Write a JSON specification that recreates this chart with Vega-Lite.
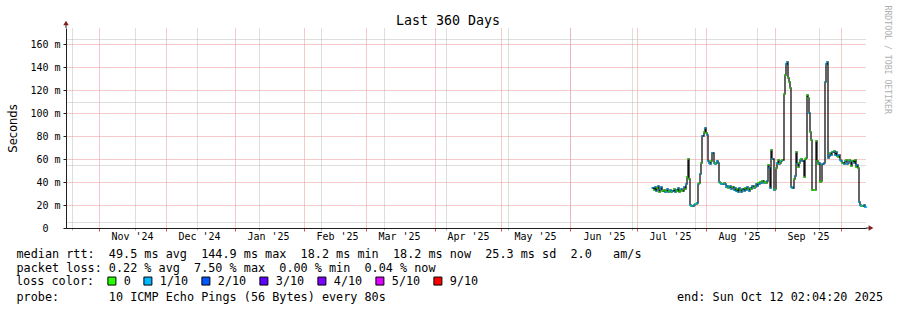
{
  "$schema": "https://vega.github.io/schema/vega-lite/v6.json",
  "width": 800,
  "height": 200,
  "autosize": {"type": "none"},
  "padding": {"left": 66, "top": 28, "right": 31, "bottom": 82},
  "background": "white",
  "title": {"text": "Last 360 Days", "font": "DejaVu Sans Mono", "fontSize": 13.3, "fontWeight": "normal", "color": "black", "anchor": "middle", "dx": -18, "dy": 27, "offset": 5},
  "config": {"view": {"stroke": null}},
  "data": {"values": [
    {"t":"2025-07-08T00:00","v":35,"loss":"1/10"},{"t":"2025-07-08T12:00","v":33,"loss":"0"},
    {"t":"2025-07-09T00:00","v":36,"loss":"1/10"},{"t":"2025-07-09T12:00","v":32,"loss":"1/10"},
    {"t":"2025-07-10T00:00","v":35,"loss":"0"},{"t":"2025-07-10T12:00","v":37,"loss":"1/10"},
    {"t":"2025-07-11T00:00","v":31,"loss":"0"},{"t":"2025-07-11T12:00","v":34,"loss":"1/10"},
    {"t":"2025-07-12T00:00","v":36,"loss":"1/10"},{"t":"2025-07-12T12:00","v":32,"loss":"0"},
    {"t":"2025-07-13T00:00","v":33,"loss":"0"},{"t":"2025-07-13T12:00","v":31,"loss":"1/10"},
    {"t":"2025-07-14T00:00","v":32,"loss":"0"},{"t":"2025-07-14T12:00","v":34,"loss":"1/10"},
    {"t":"2025-07-15T00:00","v":31,"loss":"1/10"},{"t":"2025-07-15T12:00","v":32,"loss":"0"},
    {"t":"2025-07-16T00:00","v":33,"loss":"1/10"},{"t":"2025-07-16T12:00","v":31,"loss":"0"},
    {"t":"2025-07-17T00:00","v":32,"loss":"1/10"},{"t":"2025-07-17T12:00","v":34,"loss":"0"},
    {"t":"2025-07-18T00:00","v":31,"loss":"1/10"},{"t":"2025-07-18T12:00","v":33,"loss":"1/10"},
    {"t":"2025-07-19T00:00","v":32,"loss":"0"},{"t":"2025-07-19T12:00","v":35,"loss":"1/10"},
    {"t":"2025-07-20T00:00","v":31,"loss":"0"},{"t":"2025-07-20T12:00","v":33,"loss":"0"},
    {"t":"2025-07-21T00:00","v":34,"loss":"1/10"},{"t":"2025-07-21T12:00","v":32,"loss":"0"},
    {"t":"2025-07-22T00:00","v":36,"loss":"1/10"},{"t":"2025-07-22T12:00","v":34,"loss":"0"},
    {"t":"2025-07-23T00:00","v":38,"loss":"1/10"},{"t":"2025-07-23T12:00","v":44,"loss":"0"},
    {"t":"2025-07-24T00:00","v":60,"loss":"0"},{"t":"2025-07-24T12:00","v":43,"loss":"0"},
    {"t":"2025-07-25T00:00","v":20,"loss":"1/10"},{"t":"2025-07-25T12:00","v":19,"loss":"0"},
    {"t":"2025-07-26T00:00","v":19,"loss":"1/10"},{"t":"2025-07-26T12:00","v":20,"loss":"1/10"},
    {"t":"2025-07-27T00:00","v":21,"loss":"1/10"},{"t":"2025-07-27T12:00","v":21,"loss":"0"},
    {"t":"2025-07-28T00:00","v":22,"loss":"1/10"},{"t":"2025-07-28T12:00","v":38,"loss":"1/10"},
    {"t":"2025-07-29T00:00","v":39,"loss":"0"},{"t":"2025-07-29T12:00","v":47,"loss":"1/10"},
    {"t":"2025-07-30T00:00","v":57,"loss":"0"},{"t":"2025-07-30T12:00","v":80,"loss":"1/10"},
    {"t":"2025-07-31T00:00","v":84,"loss":"0"},{"t":"2025-07-31T12:00","v":87,"loss":"1/10"},
    {"t":"2025-08-01T00:00","v":83,"loss":"0"},{"t":"2025-08-01T12:00","v":81,"loss":"1/10"},
    {"t":"2025-08-02T00:00","v":58,"loss":"1/10"},{"t":"2025-08-02T12:00","v":57,"loss":"1/10"},
    {"t":"2025-08-03T00:00","v":56,"loss":"1/10"},{"t":"2025-08-03T12:00","v":58,"loss":"0"},
    {"t":"2025-08-04T00:00","v":65,"loss":"1/10"},{"t":"2025-08-04T12:00","v":57,"loss":"1/10"},
    {"t":"2025-08-05T00:00","v":56,"loss":"1/10"},{"t":"2025-08-05T12:00","v":57,"loss":"0"},
    {"t":"2025-08-06T00:00","v":58,"loss":"1/10"},{"t":"2025-08-06T12:00","v":57,"loss":"1/10"},
    {"t":"2025-08-07T00:00","v":40,"loss":"1/10"},{"t":"2025-08-07T12:00","v":39,"loss":"0"},
    {"t":"2025-08-08T00:00","v":38,"loss":"1/10"},{"t":"2025-08-08T12:00","v":38,"loss":"1/10"},
    {"t":"2025-08-09T00:00","v":39,"loss":"0"},{"t":"2025-08-09T12:00","v":38,"loss":"1/10"},
    {"t":"2025-08-10T00:00","v":36,"loss":"1/10"},{"t":"2025-08-10T12:00","v":37,"loss":"1/10"},
    {"t":"2025-08-11T00:00","v":35,"loss":"0"},{"t":"2025-08-11T12:00","v":36,"loss":"1/10"},
    {"t":"2025-08-12T00:00","v":37,"loss":"1/10"},{"t":"2025-08-12T12:00","v":34,"loss":"1/10"},
    {"t":"2025-08-13T00:00","v":36,"loss":"0"},{"t":"2025-08-13T12:00","v":33,"loss":"1/10"},
    {"t":"2025-08-14T00:00","v":35,"loss":"1/10"},{"t":"2025-08-14T12:00","v":32,"loss":"1/10"},
    {"t":"2025-08-15T00:00","v":34,"loss":"0"},{"t":"2025-08-15T12:00","v":31,"loss":"1/10"},
    {"t":"2025-08-16T00:00","v":35,"loss":"1/10"},{"t":"2025-08-16T12:00","v":33,"loss":"0"},
    {"t":"2025-08-17T00:00","v":31,"loss":"1/10"},{"t":"2025-08-17T12:00","v":34,"loss":"1/10"},
    {"t":"2025-08-18T00:00","v":32,"loss":"1/10"},{"t":"2025-08-18T12:00","v":35,"loss":"0"},
    {"t":"2025-08-19T00:00","v":33,"loss":"1/10"},{"t":"2025-08-19T12:00","v":36,"loss":"1/10"},
    {"t":"2025-08-20T00:00","v":34,"loss":"0"},{"t":"2025-08-20T12:00","v":32,"loss":"1/10"},
    {"t":"2025-08-21T00:00","v":35,"loss":"1/10"},{"t":"2025-08-21T12:00","v":34,"loss":"0"},
    {"t":"2025-08-22T00:00","v":37,"loss":"1/10"},{"t":"2025-08-22T12:00","v":35,"loss":"1/10"},
    {"t":"2025-08-23T00:00","v":36,"loss":"0"},{"t":"2025-08-23T12:00","v":38,"loss":"1/10"},
    {"t":"2025-08-24T00:00","v":37,"loss":"1/10"},{"t":"2025-08-24T12:00","v":39,"loss":"0"},
    {"t":"2025-08-25T00:00","v":38,"loss":"1/10"},{"t":"2025-08-25T12:00","v":40,"loss":"0"},
    {"t":"2025-08-26T00:00","v":39,"loss":"1/10"},{"t":"2025-08-26T12:00","v":41,"loss":"0"},
    {"t":"2025-08-27T00:00","v":39,"loss":"1/10"},{"t":"2025-08-27T12:00","v":40,"loss":"0"},
    {"t":"2025-08-28T00:00","v":39,"loss":"0"},{"t":"2025-08-28T12:00","v":41,"loss":"1/10"},
    {"t":"2025-08-29T00:00","v":55,"loss":"0"},{"t":"2025-08-29T12:00","v":52,"loss":"1/10"},
    {"t":"2025-08-30T00:00","v":35,"loss":"1/10"},{"t":"2025-08-30T12:00","v":68,"loss":"0"},
    {"t":"2025-08-31T00:00","v":60,"loss":"1/10"},{"t":"2025-08-31T12:00","v":33,"loss":"1/10"},
    {"t":"2025-09-01T00:00","v":34,"loss":"0"},{"t":"2025-09-01T12:00","v":52,"loss":"0"},
    {"t":"2025-09-02T00:00","v":57,"loss":"1/10"},{"t":"2025-09-02T12:00","v":59,"loss":"0"},
    {"t":"2025-09-03T00:00","v":56,"loss":"1/10"},{"t":"2025-09-03T12:00","v":57,"loss":"0"},
    {"t":"2025-09-04T00:00","v":58,"loss":"1/10"},{"t":"2025-09-04T12:00","v":59,"loss":"0"},
    {"t":"2025-09-05T00:00","v":117,"loss":"0"},{"t":"2025-09-05T12:00","v":133,"loss":"0"},
    {"t":"2025-09-06T00:00","v":143,"loss":"1/10"},{"t":"2025-09-06T12:00","v":145,"loss":"1/10"},
    {"t":"2025-09-07T00:00","v":131,"loss":"0"},{"t":"2025-09-07T12:00","v":127,"loss":"0"},
    {"t":"2025-09-08T00:00","v":122,"loss":"0"},{"t":"2025-09-08T12:00","v":36,"loss":"1/10"},
    {"t":"2025-09-09T00:00","v":35,"loss":"1/10"},{"t":"2025-09-09T12:00","v":43,"loss":"0"},
    {"t":"2025-09-10T00:00","v":45,"loss":"1/10"},{"t":"2025-09-10T12:00","v":66,"loss":"0"},
    {"t":"2025-09-11T00:00","v":56,"loss":"1/10"},{"t":"2025-09-11T12:00","v":53,"loss":"0"},
    {"t":"2025-09-12T00:00","v":57,"loss":"0"},{"t":"2025-09-12T12:00","v":59,"loss":"1/10"},
    {"t":"2025-09-13T00:00","v":60,"loss":"0"},{"t":"2025-09-13T12:00","v":58,"loss":"1/10"},
    {"t":"2025-09-14T00:00","v":44,"loss":"0"},{"t":"2025-09-14T12:00","v":60,"loss":"0"},
    {"t":"2025-09-15T00:00","v":61,"loss":"0"},{"t":"2025-09-15T12:00","v":116,"loss":"0"},
    {"t":"2025-09-16T00:00","v":113,"loss":"0"},{"t":"2025-09-16T12:00","v":100,"loss":"1/10"},
    {"t":"2025-09-17T00:00","v":84,"loss":"0"},{"t":"2025-09-17T12:00","v":77,"loss":"0"},
    {"t":"2025-09-18T00:00","v":33,"loss":"0"},{"t":"2025-09-18T12:00","v":33,"loss":"0"},
    {"t":"2025-09-19T00:00","v":33,"loss":"0"},{"t":"2025-09-19T12:00","v":76,"loss":"0"},
    {"t":"2025-09-20T00:00","v":58,"loss":"0"},{"t":"2025-09-20T12:00","v":56,"loss":"0"},
    {"t":"2025-09-21T00:00","v":57,"loss":"1/10"},{"t":"2025-09-21T12:00","v":40,"loss":"0"},
    {"t":"2025-09-22T00:00","v":41,"loss":"0"},{"t":"2025-09-22T12:00","v":56,"loss":"1/10"},
    {"t":"2025-09-23T00:00","v":57,"loss":"1/10"},{"t":"2025-09-23T12:00","v":127,"loss":"1/10"},
    {"t":"2025-09-24T00:00","v":143,"loss":"1/10"},{"t":"2025-09-24T12:00","v":145,"loss":"1/10"},
    {"t":"2025-09-25T00:00","v":61,"loss":"1/10"},{"t":"2025-09-25T12:00","v":63,"loss":"1/10"},
    {"t":"2025-09-26T00:00","v":65,"loss":"0"},{"t":"2025-09-26T12:00","v":64,"loss":"1/10"},
    {"t":"2025-09-27T00:00","v":66,"loss":"1/10"},{"t":"2025-09-27T12:00","v":67,"loss":"0"},
    {"t":"2025-09-28T00:00","v":64,"loss":"1/10"},{"t":"2025-09-28T12:00","v":66,"loss":"1/10"},
    {"t":"2025-09-29T00:00","v":63,"loss":"1/10"},{"t":"2025-09-29T12:00","v":62,"loss":"0"},
    {"t":"2025-09-30T00:00","v":64,"loss":"1/10"},{"t":"2025-09-30T12:00","v":59,"loss":"1/10"},
    {"t":"2025-10-01T00:00","v":58,"loss":"1/10"},{"t":"2025-10-01T12:00","v":57,"loss":"0"},
    {"t":"2025-10-02T00:00","v":56,"loss":"1/10"},{"t":"2025-10-02T12:00","v":58,"loss":"1/10"},
    {"t":"2025-10-03T00:00","v":59,"loss":"0"},{"t":"2025-10-03T12:00","v":56,"loss":"1/10"},
    {"t":"2025-10-04T00:00","v":57,"loss":"1/10"},{"t":"2025-10-04T12:00","v":59,"loss":"0"},
    {"t":"2025-10-05T00:00","v":58,"loss":"1/10"},{"t":"2025-10-05T12:00","v":54,"loss":"0"},
    {"t":"2025-10-06T00:00","v":58,"loss":"0"},{"t":"2025-10-06T12:00","v":57,"loss":"1/10"},
    {"t":"2025-10-07T00:00","v":59,"loss":"0"},{"t":"2025-10-07T12:00","v":53,"loss":"0"},
    {"t":"2025-10-08T00:00","v":55,"loss":"1/10"},{"t":"2025-10-08T12:00","v":52,"loss":"0"},
    {"t":"2025-10-09T00:00","v":23,"loss":"1/10"},{"t":"2025-10-09T12:00","v":20,"loss":"1/10"},
    {"t":"2025-10-10T00:00","v":19,"loss":"1/10"},{"t":"2025-10-10T12:00","v":19,"loss":"0"},
    {"t":"2025-10-11T00:00","v":20,"loss":"1/10"},{"t":"2025-10-11T12:00","v":18,"loss":"1/10"},
    {"t":"2025-10-12T00:00","v":18,"loss":"1/10"},{"t":"2025-10-12T02:00","v":18,"loss":"1/10"}
  ]},
  "layer": [
    {
      "layer": [
        {
          "mark": {"type": "line", "interpolate": "step-after", "color": "#111111", "strokeWidth": 1.3},
          "encoding": {
            "x": {"field": "t", "type": "temporal",
              "scale": {"domain": [{"year": 2024, "month": 10, "date": 17, "hours": 2, "minutes": 4, "seconds": 20}, {"year": 2025, "month": 10, "date": 12, "hours": 2, "minutes": 4, "seconds": 20}], "nice": false, "round": true},
              "axis": {
                "orient": "bottom",
                "values": [
                  {"year":2024,"month":10,"date":20},{"year":2024,"month":10,"date":27},{"year":2024,"month":11,"date":3},{"year":2024,"month":11,"date":10},{"year":2024,"month":11,"date":17},{"year":2024,"month":11,"date":24},
                  {"year":2024,"month":12,"date":1},{"year":2024,"month":12,"date":8},{"year":2024,"month":12,"date":15},{"year":2024,"month":12,"date":22},{"year":2024,"month":12,"date":29},
                  {"year":2025,"month":1,"date":5},{"year":2025,"month":1,"date":12},{"year":2025,"month":1,"date":19},{"year":2025,"month":1,"date":26},
                  {"year":2025,"month":2,"date":2},{"year":2025,"month":2,"date":9},{"year":2025,"month":2,"date":16},{"year":2025,"month":2,"date":23},
                  {"year":2025,"month":3,"date":2},{"year":2025,"month":3,"date":9},{"year":2025,"month":3,"date":16},{"year":2025,"month":3,"date":23},{"year":2025,"month":3,"date":30},
                  {"year":2025,"month":4,"date":6},{"year":2025,"month":4,"date":13},{"year":2025,"month":4,"date":20},{"year":2025,"month":4,"date":27},
                  {"year":2025,"month":5,"date":4},{"year":2025,"month":5,"date":11},{"year":2025,"month":5,"date":18},{"year":2025,"month":5,"date":25},
                  {"year":2025,"month":6,"date":1},{"year":2025,"month":6,"date":8},{"year":2025,"month":6,"date":15},{"year":2025,"month":6,"date":22},{"year":2025,"month":6,"date":29},
                  {"year":2025,"month":7,"date":6},{"year":2025,"month":7,"date":13},{"year":2025,"month":7,"date":20},{"year":2025,"month":7,"date":27},
                  {"year":2025,"month":8,"date":3},{"year":2025,"month":8,"date":10},{"year":2025,"month":8,"date":17},{"year":2025,"month":8,"date":24},{"year":2025,"month":8,"date":31},
                  {"year":2025,"month":9,"date":7},{"year":2025,"month":9,"date":14},{"year":2025,"month":9,"date":21},{"year":2025,"month":9,"date":28},
                  {"year":2025,"month":10,"date":5},{"year":2025,"month":10,"date":12}
                ],
                "labels": false, "domain": false,
                "grid": true, "gridColor": "#bdbdbd", "gridDash": [1, 1], "gridWidth": 1,
                "ticks": true, "tickSize": 2, "tickColor": "#aaaaaa",
                "title": [
                  "median rtt:\u00a0\u00a049.5 ms avg\u00a0\u00a0144.9 ms max\u00a0\u00a018.2 ms min\u00a0\u00a018.2 ms now\u00a0\u00a025.3 ms sd\u00a0\u00a02.0\u00a0\u00a0\u00a0am/s",
                  "packet loss: 0.22 % avg\u00a0\u00a07.50 % max\u00a0\u00a00.00 % min\u00a0\u00a00.04 % now"
                ],
                "titleFont": "DejaVu Sans Mono", "titleFontSize": 11.8, "titleFontWeight": "normal", "titleColor": "black",
                "titleAlign": "left", "titleAngle": 0, "titleX": -50, "titleY": 29.5, "titleBaseline": "alphabetic", "titleLineHeight": 14
              }
            },
            "y": {"field": "v", "type": "quantitative",
              "scale": {"domain": [0, 174.2], "nice": false, "zero": true, "round": true},
              "axis": {
                "orient": "left",
                "values": [5,10,15,25,30,35,45,50,55,65,70,75,85,90,95,105,110,115,125,130,135,145,150,155,165,170],
                "labels": false, "ticks": false, "domain": false,
                "grid": true, "gridColor": "#bdbdbd", "gridDash": [1, 1], "gridWidth": 1,
                "title": null
              }
            }
          }
        },
        {
          "mark": {"type": "point", "shape": "M-1,-0.5H1V0.5H-1Z", "filled": true, "size": 5, "opacity": 1},
          "encoding": {
            "x": {"field": "t", "type": "temporal"},
            "y": {"field": "v", "type": "quantitative"},
            "color": {"field": "loss", "type": "nominal",
              "scale": {"domain": ["0", "1/10", "2/10", "3/10", "4/10", "5/10", "9/10"], "range": ["#26ff00", "#00b8ff", "#0059ff", "#5e00ff", "#7e00ff", "#dd00ff", "#ff0000"]},
              "legend": {
                "orient": "none", "legendX": -50, "legendY": 247, "direction": "horizontal",
                "title": "loss color:", "titleOrient": "left", "titleFont": "DejaVu Sans Mono", "titleFontSize": 11.8, "titleFontWeight": "normal", "titleColor": "black", "titlePadding": 11,
                "labelFont": "DejaVu Sans Mono", "labelFontSize": 11.8, "labelColor": "black", "labelOffset": 6,
                "symbolType": "square", "symbolSize": 64, "symbolStrokeColor": "black", "symbolStrokeWidth": 1, "symbolOpacity": 1,
                "columnPadding": 10, "padding": 0, "offset": 0
              }
            }
          }
        }
      ]
    },
    {
      "mark": {"type": "line", "opacity": 0},
      "encoding": {
        "x": {"field": "t", "type": "temporal",
          "axis": {
            "orient": "bottom",
            "values": [
              {"year":2024,"month":11,"date":1},{"year":2024,"month":12,"date":1},{"year":2025,"month":1,"date":1},{"year":2025,"month":2,"date":1},{"year":2025,"month":3,"date":1},{"year":2025,"month":4,"date":1},
              {"year":2025,"month":5,"date":1},{"year":2025,"month":6,"date":1},{"year":2025,"month":7,"date":1},{"year":2025,"month":8,"date":1},{"year":2025,"month":9,"date":1},{"year":2025,"month":10,"date":1}
            ],
            "labels": false, "domain": false,
            "grid": true, "gridColor": "#eb9595", "gridDash": [1, 1], "gridWidth": 1,
            "ticks": true, "tickSize": 3, "tickColor": "#de4f4f",
            "title": null
          }
        },
        "y": {"field": "v", "type": "quantitative",
          "scale": {"domain": [0, 174.2], "nice": false, "zero": true, "round": true},
          "axis": {
            "orient": "left",
            "values": [0,20,40,60,80,100,120,140,160],
            "labelExpr": "datum.value == 0 ? '0' : datum.value + ' m'",
            "labelFont": "DejaVu Sans Mono", "labelFontSize": 10, "labelColor": "black",
            "labelPadding": {"condition": {"test": "datum.value == 0", "value": 15}, "value": 3},
            "labelOverlap": false, "labelFlush": false, "labelBound": false,
            "ticks": true, "tickSize": 3, "tickColor": "#1f1f1f",
            "grid": true, "gridColor": "#eb9595", "gridDash": [1, 1], "gridWidth": 1,
            "domain": true, "domainColor": "#1f1f1f", "domainWidth": 1,
            "title": "Seconds", "titleFont": "DejaVu Sans", "titleFontSize": 11.5, "titleFontWeight": "normal", "titleColor": "black",
            "titleX": -50, "titleY": 100, "titleAngle": -90, "titleAlign": "center", "titleBaseline": "alphabetic"
          }
        }
      }
    },
    {
      "mark": {"type": "line", "opacity": 0},
      "encoding": {
        "x": {"field": "t", "type": "temporal",
          "axis": {
            "orient": "bottom", "zindex": 1,
            "values": [
              {"year":2024,"month":11,"date":16},{"year":2024,"month":12,"date":16},{"year":2025,"month":1,"date":16},{"year":2025,"month":2,"date":16},{"year":2025,"month":3,"date":16},{"year":2025,"month":4,"date":16},
              {"year":2025,"month":5,"date":16},{"year":2025,"month":6,"date":16},{"year":2025,"month":7,"date":16},{"year":2025,"month":8,"date":16},{"year":2025,"month":9,"date":16}
            ],
            "format": "%b '%y",
            "labelFont": "DejaVu Sans Mono", "labelFontSize": 10, "labelColor": "black",
            "labelOverlap": false, "labelFlush": false, "labelBound": false, "labelPadding": 3, "labelAngle": 0,
            "grid": false, "ticks": false, "tickSize": 3,
            "domain": true, "domainColor": "#1f1f1f", "domainWidth": 1,
            "title": "probe:\u00a0\u00a0\u00a0\u00a0\u00a0\u00a0\u00a010 ICMP Echo Pings (56 Bytes) every 80s\u00a0\u00a0\u00a0\u00a0\u00a0\u00a0\u00a0\u00a0\u00a0\u00a0\u00a0\u00a0\u00a0\u00a0\u00a0\u00a0\u00a0\u00a0\u00a0\u00a0\u00a0\u00a0\u00a0\u00a0\u00a0\u00a0\u00a0\u00a0\u00a0\u00a0\u00a0\u00a0\u00a0\u00a0\u00a0\u00a0\u00a0\u00a0\u00a0\u00a0\u00a0end: Sun Oct 12 02:04:20 2025",
            "titleFont": "DejaVu Sans Mono", "titleFontSize": 11.8, "titleFontWeight": "normal", "titleColor": "black",
            "titleAlign": "left", "titleAngle": 0, "titleX": -50, "titleY": 72, "titleBaseline": "alphabetic"
          }
        },
        "y": {"field": "v", "type": "quantitative",
          "scale": {"domain": [0, 174.2], "nice": false},
          "axis": {"orient": "right", "labels": false, "ticks": false, "domain": false, "grid": false,
            "title": "RRDTOOL / TOBI OETIKER", "titleFont": "DejaVu Sans Mono", "titleFontSize": 8.2, "titleFontWeight": "normal", "titleColor": "#b0b0b0",
            "titleAngle": 90, "titleX": 18, "titleY": -23, "titleAlign": "left", "titleBaseline": "alphabetic"}
        }
      }
    },
    {
      "data": {"values": [{}]},
      "layer": [
        {
          "mark": {"type": "rule", "color": "#1f1f1f", "strokeWidth": 1},
          "encoding": {
            "x": {"datum": {"year": 2024, "month": 10, "date": 17, "hours": 2, "minutes": 4, "seconds": 20}, "type": "temporal", "axis": null},
            "y": {"datum": 174.2, "type": "quantitative", "scale": {"domain": [0, 174.2], "nice": false, "zero": true, "round": true}, "axis": null},
            "y2": {"datum": 178}
          }
        },
        {
          "mark": {"type": "rule", "color": "#1f1f1f", "strokeWidth": 1},
          "encoding": {
            "x": {"datum": {"year": 2025, "month": 10, "date": 12, "hours": 2, "minutes": 4, "seconds": 20}, "type": "temporal", "axis": null},
            "x2": {"datum": {"year": 2025, "month": 10, "date": 14, "hours": 6}},
            "y": {"datum": 0, "type": "quantitative", "axis": null}
          }
        },
        {
          "mark": {"type": "point", "shape": "triangle-up", "filled": true, "color": "#801f1f", "size": 30, "opacity": 1},
          "encoding": {
            "x": {"datum": {"year": 2024, "month": 10, "date": 17, "hours": 2, "minutes": 4, "seconds": 20}, "type": "temporal", "axis": null},
            "y": {"datum": 178.5, "type": "quantitative", "axis": null}
          }
        },
        {
          "mark": {"type": "point", "shape": "triangle-right", "filled": true, "color": "#801f1f", "size": 30, "opacity": 1},
          "encoding": {
            "x": {"datum": {"year": 2025, "month": 10, "date": 14, "hours": 12}, "type": "temporal", "axis": null},
            "y": {"datum": 0, "type": "quantitative", "axis": null}
          }
        }
      ]
    }
  ],
  "resolve": {"scale": {"y": "independent"}, "axis": {"y": "independent", "x": "independent"}}
}
